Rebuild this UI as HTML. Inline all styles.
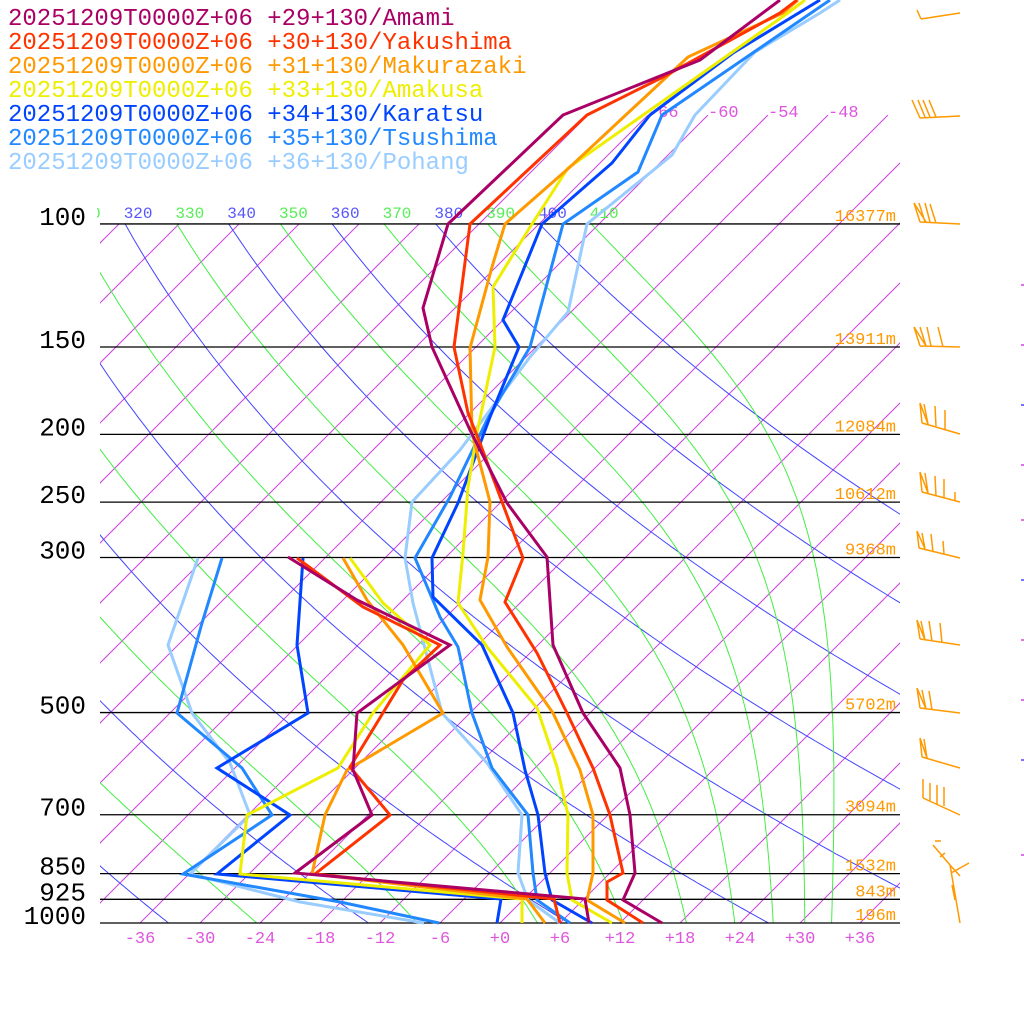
<!DOCTYPE html>
<html><head><meta charset="utf-8">
<style>
html,body{margin:0;padding:0;background:#fff;}
svg{display:block;}
text{font-family:"Liberation Mono",monospace;}
</style></head>
<body>
<svg id="s" width="1024" height="1024" viewBox="0 0 1024 1024" xmlns="http://www.w3.org/2000/svg">
<defs>
<clipPath id="cIso"><rect x="100" y="115" width="800" height="808"/></clipPath>
<clipPath id="cIsoLow"><rect x="100" y="224" width="800" height="699"/></clipPath>
<clipPath id="cAd"><rect x="100" y="224" width="800" height="699"/></clipPath>
<clipPath id="cLab"><rect x="97" y="180" width="803" height="60"/></clipPath>
</defs>
<g id="isoLow" clip-path="url(#cIsoLow)" stroke="#cc44dd" stroke-width="1" fill="none"></g>
<g id="iso" clip-path="url(#cIso)" stroke="#cc44dd" stroke-width="1" fill="none"></g>
<g id="dry" clip-path="url(#cAd)" stroke="#4444ff" stroke-width="1" fill="none"></g>
<g id="moist" clip-path="url(#cAd)" stroke="#44ee44" stroke-width="1" fill="none"></g>
<g id="thlab" clip-path="url(#cLab)" font-size="16" text-anchor="middle"></g>
<g id="plines" stroke="#000" stroke-width="1.3"></g>
<g id="labs"></g>
<g id="data" fill="none" stroke-width="3" stroke-linejoin="miter"></g>
<g id="barbs" stroke="#ff9900" stroke-width="1.5" fill="none"></g>
<g font-size="24">
<text x="8" y="25" fill="#aa0066">20251209T0000Z+06 +29+130/Amami</text>
<text x="8" y="49" fill="#ff3300">20251209T0000Z+06 +30+130/Yakushima</text>
<text x="8" y="73" fill="#ff9900">20251209T0000Z+06 +31+130/Makurazaki</text>
<text x="8" y="97" fill="#eeee00">20251209T0000Z+06 +33+130/Amakusa</text>
<text x="8" y="121" fill="#0044ff">20251209T0000Z+06 +34+130/Karatsu</text>
<text x="8" y="145" fill="#2288ff">20251209T0000Z+06 +35+130/Tsushima</text>
<text x="8" y="169" fill="#99ccff">20251209T0000Z+06 +36+130/Pohang</text>
</g>
</svg>
<script>
(function(){
var NS="http://www.w3.org/2000/svg";
function el(tag,attrs,parent,txt){var e=document.createElementNS(NS,tag);for(var k in attrs)e.setAttribute(k,attrs[k]);if(txt!==undefined)e.textContent=txt;parent.appendChild(e);return e;}
var K=303.6;
function Y(p){return 923-K*Math.log(1000/p);}
function X(Tc,p){return 500+10*Tc+K*Math.log(1000/p);}
var iso=document.getElementById('iso'),isoLow=document.getElementById('isoLow');
for(var T=-150;T<=60;T+=6){var x0=500+10*T;el('line',{x1:x0,y1:923,x2:x0+808,y2:115},T>=-72?iso:isoLow);}
var dry=document.getElementById('dry');
for(var th=220;th<=400;th+=20){var d='';for(var p=100;p<=1000;p+=5){var Tk=th*Math.pow(p/1000,0.2857);d+=(p==100?'M':'L')+X(Tk-273.15,p).toFixed(1)+','+Y(p).toFixed(1);}el('path',{d:d},dry);}
var moist=document.getElementById('moist');
var Rd=287,cp=1005,Lv=2.5e6,eps=0.622;
for(var th=230;th<=410;th+=20){var Tk=th*Math.pow(0.1,0.2857);var p=100;var d='M'+X(Tk-273.15,p).toFixed(1)+','+Y(p).toFixed(1);
 var dp=1;while(p<1000){var es=6.112*Math.exp(17.67*(Tk-273.15)/(Tk-29.65));var rs=eps*es/(p-es);
 var dT=(Rd*Tk+Lv*rs)/(p*(cp+Lv*Lv*rs*eps/(Rd*Tk*Tk)));Tk+=dT*dp;p+=dp;
 if(p%5==0)d+='L'+X(Tk-273.15,p).toFixed(1)+','+Y(p).toFixed(1);}
 el('path',{d:d},moist);}
var tl=document.getElementById('thlab');
for(var th=300;th<=410;th+=10){var Tk=th*Math.pow(0.1,0.2857);var x=X(Tk-273.15,100)+13;
 el('text',{x:x.toFixed(1),y:218,fill:(th%20==0)?'#5555ff':'#55ee55'},tl,''+th);}
var pl=document.getElementById('plines'),labs=document.getElementById('labs');
var levels=[[100,'16377m'],[150,'13911m'],[200,'12084m'],[250,'10612m'],[300,'9368m'],[500,'5702m'],[700,'3094m'],[850,'1532m'],[925,'843m'],[1000,'196m']];
levels.forEach(function(l){var y=Y(l[0]);el('line',{x1:100,y1:y,x2:900,y2:y},pl);
 el('text',{x:86,y:(y+1).toFixed(1),'font-size':26,'text-anchor':'end',fill:'#000'},labs,''+l[0]);
 el('text',{x:896,y:(y-3).toFixed(1),'font-size':17,'text-anchor':'end',fill:'#ff9900'},labs,l[1]);});
for(var T=-36;T<=36;T+=6){el('text',{x:500+10*T,y:943,'font-size':17,'text-anchor':'middle',fill:'#dd55dd'},labs,(T>=0?'+':'-')+Math.abs(T));}
[-66,-60,-54,-48].forEach(function(T){var x=500+10*T+808;el('text',{x:x,y:117,'font-size':17,fill:'#dd55dd'},labs,'-'+Math.abs(T));});
var data=document.getElementById('data');
var S=[
['#99ccff','840,0 820,13 755,52 695,115 672,155 587,224 568,312 530,357 460,450 412,502 405,558 413,603 442,713 487,763 522,815 518,873 528,900 560,923','198,558 168,645 192,713 230,763 250,815 190,874 300,902 424,923'],
['#2288ff','830,0 757,50 662,115 638,172 563,224 530,347 487,420 450,497 415,558 440,617 458,647 472,713 492,768 528,815 533,873 537,900 570,923','222,558 202,623 177,713 242,768 272,815 183,874 340,902 439,923'],
['#0044ff','820,0 733,53 650,115 612,163 542,224 503,320 519,347 490,417 458,503 432,558 433,597 482,645 513,713 525,770 538,815 545,873 552,900 592,923','303,558 297,645 308,713 217,768 290,815 217,874 501,899 497,923'],
['#eeee00','805,0 785,15 568,168 532,224 493,287 495,347 477,433 468,487 463,553 458,603 487,647 537,708 557,767 568,815 567,873 572,900 612,923','350,558 383,603 430,645 373,713 338,768 247,815 240,874 522,899 522,923'],
['#ff9900','798,0 783,13 688,57 570,167 505,224 492,267 470,348 472,433 490,502 488,557 480,600 507,647 553,713 580,770 593,815 593,873 587,900 625,923','343,558 367,600 403,645 443,713 347,770 325,815 312,874 527,899 545,923'],
['#ff3300','797,0 780,13 663,77 587,115 470,224 454,347 468,413 480,443 523,558 505,602 537,653 567,713 593,768 610,815 623,873 607,882 607,900 643,923','297,558 363,607 440,645 403,680 350,767 390,815 315,874 554,899 560,923'],
['#aa0066','780,0 700,60 563,115 448,224 423,308 432,347 470,430 507,503 547,557 553,645 583,713 620,768 630,815 635,873 623,900 662,923','288,557 357,600 450,645 357,713 353,770 372,815 295,873 585,899 589,923']
];
S.forEach(function(s){el('polyline',{points:s[1],stroke:s[0]},data);el('polyline',{points:s[2],stroke:s[0]},data);});
var b=document.getElementById('barbs');
var B=[
'M921,19 L960,13 M921,19 L917,10',
'M920,118 L960,116 M920,118 L912,100 M925,117 L918,100 M930,117 L923,100 M936,117 L929,100',
'M920,222 L960,224 M920,222 L914,203 L926,222 M925,222 L919,203 M930,222 L925,203 M936,223 L930,204',
'M920,346 L960,347 M920,346 L914,327 L926,346 M926,346 L920,327 M931,346 L927,327 M943,347 L938,327',
'M922,423 L960,434 M922,423 L920,403 L928,424 M928,424 L924,404 M936,426 L935,406 M945,429 L945,410',
'M922,492 L960,502 M922,492 L920,472 L928,493 M928,493 L925,473 M936,496 L935,476 M944,498 L944,479 M955,500 L955,492',
'M919,548 L960,558 M919,548 L917,531 L925,549 M925,549 L922,533 M933,552 L931,534 M944,554 L943,541',
'M920,639 L960,645 M920,639 L917,620 L925,640 M925,640 L921,621 M932,641 L929,621 M942,643 L940,623',
'M920,708 L960,713 M920,708 L917,688 L926,709 M926,709 L922,690 M932,710 L929,691',
'M922,757 L960,768 M922,757 L920,738 L927,758 M927,758 L924,739',
'M923,798 L960,815 M923,798 L923,779 M930,801 L930,783 M937,804 L937,785 M944,806 L944,787',
'M933,845 L950,865 L960,923 M935,841 L941,841 M945,853 L940,857 M950,865 L960,876 M951,873 L969,863 M952,885 L955,900'
];
B.forEach(function(d){el('path',{d:d},b);});
[285,345,405,465,520,580,640,700,760,855].forEach(function(y,i){el('line',{x1:1021,y1:y,x2:1024,y2:y,stroke:(i%3==2)?'#4444ff':'#cc44dd','stroke-width':1.5},b);});
})();
</script>
</body></html>
